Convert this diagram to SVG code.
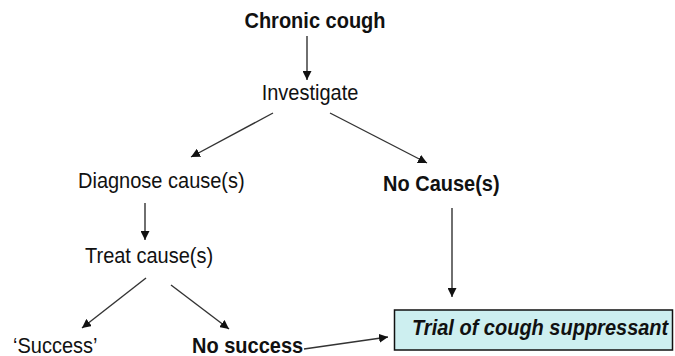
<svg xmlns="http://www.w3.org/2000/svg" width="675" height="356" viewBox="0 0 675 356">
  <defs>
    <marker id="head" viewBox="0 0 10 10" refX="10" refY="5" markerWidth="9" markerHeight="9" markerUnits="userSpaceOnUse" orient="auto">
      <path d="M0,0 L10,5 L0,10 z" fill="#111"/>
    </marker>
    <style>
      text { font-family: "Liberation Sans", Arial, sans-serif; font-size: 20px; fill: #111; }
      .b { font-weight: bold; }
      .bi { font-weight: bold; font-style: italic; }
      .edge { stroke: #333; stroke-width: 1.4; fill: none; marker-end: url(#head); }
    </style>
  </defs>
  <rect width="675" height="356" fill="#fff"/>

  <g id="edges">
    <line class="edge" x1="307" y1="36" x2="307" y2="80"/>
    <line class="edge" x1="273" y1="113" x2="191" y2="157"/>
    <line class="edge" x1="330" y1="113" x2="427" y2="163"/>
    <line class="edge" x1="145" y1="203" x2="145" y2="240"/>
    <line class="edge" x1="146" y1="278" x2="82" y2="328"/>
    <line class="edge" x1="171" y1="285" x2="229" y2="329"/>
    <line class="edge" x1="452" y1="208" x2="452" y2="297"/>
    <line class="edge" x1="304" y1="349" x2="388" y2="337"/>
  </g>

  <!-- labels are set slightly taller than wide -->
  <g id="chronic-cough"><text class="b" transform="translate(315,28) scale(1,1.1)" text-anchor="middle">Chronic cough</text></g>
  <g id="investigate"><text transform="translate(310,100) scale(1,1.1)" text-anchor="middle">Investigate</text></g>
  <g id="diagnose"><text transform="translate(78,188) scale(1,1.1)">Diagnose cause(s)</text></g>
  <g id="no-cause"><text class="b" transform="translate(383,191) scale(1,1.1)">No Cause(s)</text></g>
  <g id="treat"><text transform="translate(85,263) scale(1,1.1)">Treat cause(s)</text></g>
  <g id="success"><text transform="translate(13,353) scale(1,1.1)">‘Success’</text></g>
  <g id="no-success"><text class="b" transform="translate(192,353) scale(1,1.1)">No success</text></g>
  <g id="trial">
    <rect x="394.5" y="310" width="278" height="40" fill="#cdeff0" stroke="#111" stroke-width="1.5"/>
    <text class="bi" transform="translate(412,335) scale(1,1.1)">Trial of cough suppressant</text>
  </g>
</svg>
